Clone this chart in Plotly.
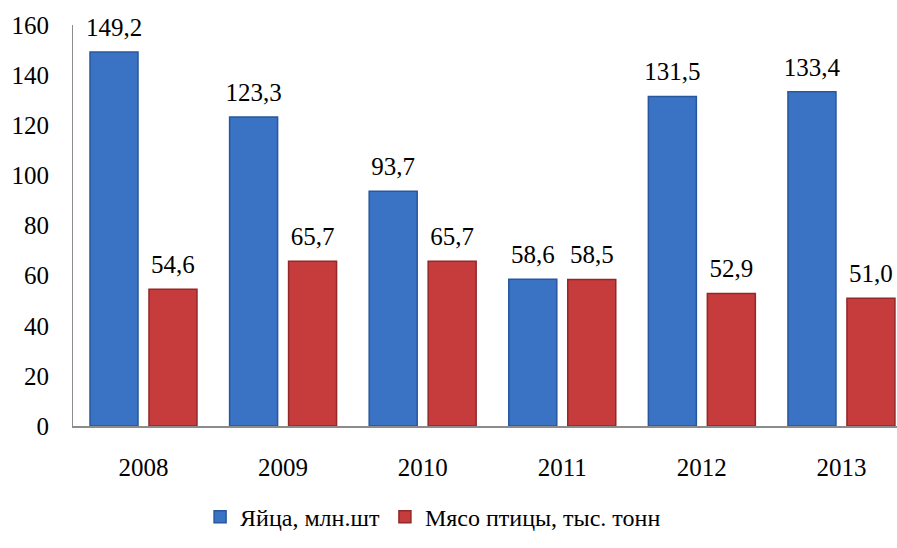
import plotly.graph_objects as go

years = ['2008', '2009', '2010', '2011', '2012', '2013']
eggs = [149.2, 123.3, 93.7, 58.6, 131.5, 133.4]
poultry = [54.6, 65.7, 65.7, 58.5, 52.9, 51.0]
names = ['Яйца, млн.шт', 'Мясо птицы, тыс. тонн']
colors = ['#3A72C4', '#C63B3B']
edges = ['#28579E', '#932828']

def fmt(vals):
  return [f'{v:.1f}'.replace('.', ',') for v in vals]

serif = 'Liberation Serif'
font = dict(family=serif, size=25, color='black')

fig = go.Figure()
for vals, name, c, e in zip([eggs, poultry], names, colors, edges):
  fig.add_trace(go.Bar(x=years, y=vals, name=name,
                       marker=dict(color=c, line=dict(color=e, width=1.5))))
# value labels, grouped the same way as the bars; invisible marker pushes text up
for vals in [eggs, poultry]:
  fig.add_trace(go.Scatter(x=years, y=vals, mode='markers+text', text=fmt(vals),
                           textposition='top center', textfont=font,
                           marker=dict(size=14, opacity=0), showlegend=False,
                           hoverinfo='skip', cliponaxis=False))

fig.update_layout(
  width=897, height=548,
  margin=dict(l=73, r=0, t=25, b=122),
  paper_bgcolor='white', plot_bgcolor='white',
  font=font,
  barmode='group', bargap=0.155, bargroupgap=0.186,
  scattermode='group', scattergap=0.155,
  showlegend=True,
  legend=dict(orientation='h', x=0.437, xanchor='center', y=-0.227, yanchor='middle',
              font=dict(family=serif, size=24, color='black'),
              itemwidth=30, tracegroupgap=0),
)
fig.update_yaxes(range=[0, 160], dtick=20, showgrid=False, zeroline=False,
                 showline=True, linecolor='#8c8c8c', linewidth=1,
                 ticks='', ticklabelstandoff=18, automargin=False)
fig.update_xaxes(range=[-0.505, 5.398], showgrid=False, showline=True,
                 linecolor='#8c8c8c', linewidth=1.5, ticks='', ticklabelstandoff=18,
                 automargin=False)

fig.write_html("out.html", config={'displayModeBar': False},
               post_script="document.body.style.margin='0';")
